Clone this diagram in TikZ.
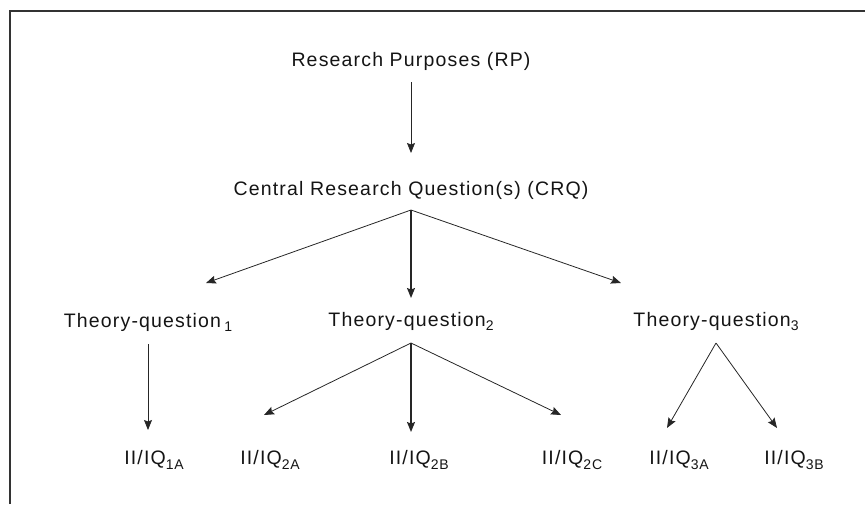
\documentclass[tikz,border=0pt]{standalone}
\usepackage{fontspec}
\setmainfont{Liberation Sans}[LetterSpace=6]
\usetikzlibrary{arrows.meta}

% lowered index used in the labels
\newcommand{\idx}[2]{\raisebox{-#1}{\fontsize{14}{14}\selectfont #2}}

\tikzset{
  frameline/.style={line width=2pt, draw=black!80},
  lbl/.style={inner sep=0pt, text=black!92, font=\fontsize{19.5}{23}\selectfont},
  link/.style={draw=black!85, line width=0.8pt,
    -{Stealth[length=10pt, width=8pt, inset=1.5pt]}},
  heavylink/.style={link, line width=1.4pt}
}

\begin{document}
\begin{tikzpicture}[x=1pt, y=-1pt]
\useasboundingbox (0,0) rectangle (865,504);

% open frame (left and top edges)
\draw[frameline] (9.5,504) -- (9.5,11) -- (865,11);

% top levels
\node[lbl, anchor=base] (rp)  at (411,66)  {Research Purposes (RP)};
\node[lbl, anchor=base] (crq) at (411,195) {Central Research Question(s) (CRQ)};

% theory questions
\node[lbl, anchor=base] (tq1) at (148,327) {Theory-question\,\idx{4pt}{1}};
\node[lbl, anchor=base] (tq2) at (411,326) {Theory-question\idx{4pt}{2}};
\node[lbl, anchor=base] (tq3) at (716,326) {Theory-question\idx{4pt}{3}};

% indicator questions
\node[lbl, anchor=base] (q1a) at (154,464) {II/IQ\idx{5pt}{1A}};
\node[lbl, anchor=base] (q2a) at (270,464) {II/IQ\idx{5pt}{2A}};
\node[lbl, anchor=base] (q2b) at (419,464) {II/IQ\idx{5pt}{2B}};
\node[lbl, anchor=base] (q2c) at (572,464) {II/IQ\idx{5pt}{2C}};
\node[lbl, anchor=base] (q3a) at (679,464) {II/IQ\idx{5pt}{3A}};
\node[lbl, anchor=base] (q3b) at (794,464) {II/IQ\idx{5pt}{3B}};

% branch points and arrow tips
\coordinate (rpout)  at (411,82);
\coordinate (crqin)  at (411,153);
\coordinate (crqhub) at (411,210);
\coordinate (tq1in)  at (206,283);
\coordinate (tq2in)  at (411,298);
\coordinate (tq3in)  at (621,283);
\coordinate (tq1out) at (148,344);
\coordinate (tq2hub) at (411,343);
\coordinate (tq3hub) at (716,343);
\coordinate (q1ain)  at (148,430);
\coordinate (q2ain)  at (264,415);
\coordinate (q2bin)  at (411,432);
\coordinate (q2cin)  at (561,415);
\coordinate (q3ain)  at (667,428);
\coordinate (q3bin)  at (777,428);

% connectors
\draw[link] (rpout) -- (crqin);
\draw[link] (crqhub) -- (tq1in);
\draw[heavylink] (crqhub) -- (tq2in);
\draw[link] (crqhub) -- (tq3in);
\draw[link] (tq1out) -- (q1ain);
\draw[link] (tq2hub) -- (q2ain);
\draw[heavylink] (tq2hub) -- (q2bin);
\draw[link] (tq2hub) -- (q2cin);
\draw[link] (tq3hub) -- (q3ain);
\draw[link] (tq3hub) -- (q3bin);
\end{tikzpicture}
\end{document}
